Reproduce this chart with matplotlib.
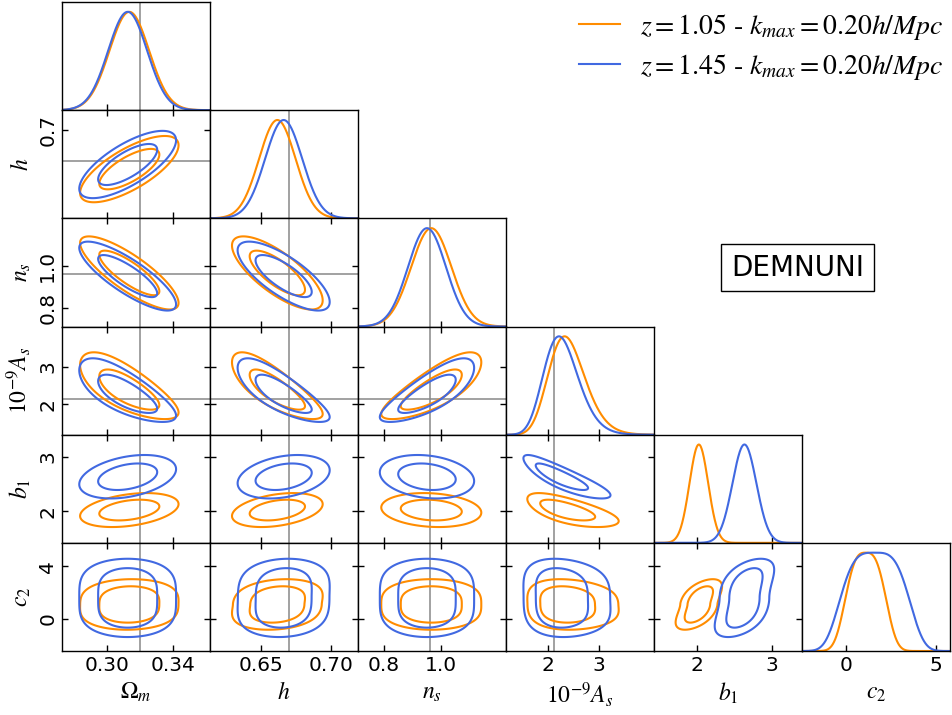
import numpy as np
import matplotlib
matplotlib.use("Agg")
import matplotlib.pyplot as plt
from matplotlib.lines import Line2D

plt.rcParams['mathtext.fontset'] = 'stix'

# parameters: labels, plot ranges, ticks and fiducial values
labels = ['$\\Omega_m$', '$h$', '$n_s$', '$10^{-9}A_s$', '$b_1$', '$c_2$']
limits = [(0.2727, 0.3624), (0.614, 0.7195), (0.71, 1.225),
          (1.19, 4.07), (1.42, 3.40), (-2.45, 5.8)]
xticks = [[0.30, 0.34], [0.65, 0.70], [0.8, 1.0], [2, 3], [2, 3], [0, 5]]
xticklabels = [['0.30', '0.34'], ['0.65', '0.70'], ['0.8', '1.0'],
               ['2', '3'], ['2', '3'], ['0', '5']]
yticks = [[], [0.7], [0.8, 1.0], [2, 3], [2, 3], [0, 4]]
yticklabels = [[], ['0.7'], ['0.8', '1.0'], ['2', '3'], ['2', '3'], ['0', '4']]
truth = [0.32, 0.67, 0.96, 2.13, None, None]

# posterior summaries for the two redshift bins
# (A_s width is in log units, c2 uses a flattening power)
chain_labels = ['$z=1.05$ - $k_{max}=0.20h/Mpc$', '$z=1.45$ - $k_{max}=0.20h/Mpc$']
chain_colors = ['#ff8c00', '#4169e1']

mean_z105 = [0.3135, 0.662, 0.965, 2.33, 2.02, 1.1]
sigma_z105 = [0.0120, 0.0130, 0.070, 0.150, 0.125, 1.05]
power_z105 = [1, 1, 1, 1, 1, 1.5]
corr_z105 = [[1.00, 0.72, -0.82, -0.72, 0.35, 0.05],
             [0.72, 1.00, -0.75, -0.78, 0.35, 0.20],
             [-0.82, -0.75, 1.00, 0.78, -0.15, 0.00],
             [-0.72, -0.78, 0.78, 1.00, -0.65, -0.10],
             [0.35, 0.35, -0.15, -0.65, 1.00, 0.60],
             [0.05, 0.20, 0.00, -0.10, 0.60, 1.00]]

mean_z145 = [0.3125, 0.6665, 0.950, 2.22, 2.63, 1.6]
sigma_z145 = [0.0118, 0.0132, 0.066, 0.150, 0.160, 1.80]
power_z145 = [1, 1, 1, 1, 1, 1.8]
corr_z145 = [[1.00, 0.72, -0.82, -0.72, 0.35, 0.00],
             [0.72, 1.00, -0.75, -0.78, 0.30, 0.10],
             [-0.82, -0.75, 1.00, 0.78, -0.20, 0.00],
             [-0.72, -0.78, 0.78, 1.00, -0.85, -0.10],
             [0.35, 0.30, -0.20, -0.85, 1.00, 0.55],
             [0.00, 0.10, 0.00, -0.10, 0.55, 1.00]]

chains = [(mean_z105, sigma_z105, power_z105, corr_z105),
          (mean_z145, sigma_z145, power_z145, corr_z145)]

levels = [2.30, 6.18]   # 68% and 95% in two dimensions
npar = len(labels)


def to_u(x, k, mean, sigma, power):
    if k == 3:
        t = (np.log(x) - np.log(mean[k])) / sigma[k]
    else:
        t = (x - mean[k]) / sigma[k]
    return np.sign(t) * np.abs(t) ** power[k]


fig = plt.figure(figsize=(9.53, 7.15), dpi=100)
W, H = 953.0, 715.0
x0, x1, y0, y1 = 62, 950, 2, 651
cw = (x1 - x0) / npar
rh = (y1 - y0) / npar

for i in range(npar):
    for j in range(i + 1):
        ax = fig.add_axes([(x0 + j * cw) / W, 1 - (y0 + (i + 1) * rh) / H,
                           cw / W, rh / H])
        for s in ax.spines.values():
            s.set_linewidth(1.0)
        ax.set_xlim(limits[j])
        if i == j:
            xs = np.linspace(limits[j][0], limits[j][1], 500)
            for (mean, sigma, power, corr), c in zip(chains, chain_colors):
                u = to_u(xs, j, mean, sigma, power)
                ax.plot(xs, np.exp(-0.5 * u ** 2), color=c, lw=1.5)
            ax.set_ylim(0, 1.1)
            ax.set_yticks([])
            ax.tick_params(direction='in', length=4, width=1, top=False,
                           right=False, left=False, labelsize=14.5)
        else:
            xs = np.linspace(limits[j][0], limits[j][1], 300)
            ys = np.linspace(limits[i][0], limits[i][1], 300)
            X, Y = np.meshgrid(xs, ys)
            for (mean, sigma, power, corr), c in zip(chains, chain_colors):
                ux = to_u(X, j, mean, sigma, power)
                uy = to_u(Y, i, mean, sigma, power)
                r = corr[i][j]
                q = (ux ** 2 - 2 * r * ux * uy + uy ** 2) / (1 - r ** 2)
                ax.contour(X, Y, q, levels=levels, colors=c, linewidths=1.5)
            ax.set_ylim(limits[i])
            ax.set_yticks(yticks[i])
            ax.set_yticklabels(yticklabels[i])
            ax.tick_params(direction='in', length=4, width=1, top=True,
                           right=True, labelsize=14.5)
            ax.tick_params(axis='y', labelrotation=90)
            if truth[i] is not None:
                ax.axhline(truth[i], color='#888888', lw=1.1, zorder=0)
        if truth[j] is not None:
            ax.axvline(truth[j], color='#888888', lw=1.1, zorder=0)
        ax.set_xticks(xticks[j])
        ax.set_xticklabels(xticklabels[j])
        if i < npar - 1:
            ax.tick_params(labelbottom=False)
        else:
            ax.set_xlabel(labels[j], fontsize=17)
        if j > 0 or i == 0:
            ax.tick_params(labelleft=False)
        else:
            ax.set_ylabel(labels[i], fontsize=17)
        for lab in ax.get_yticklabels():
            lab.set_va('center')

handles = [Line2D([], [], color=c, lw=1.5) for c in chain_colors]
fig.legend(handles, chain_labels, loc='upper right',
           bbox_to_anchor=(1.016, 1.018), frameon=False,
           prop={'family': 'STIXGeneral', 'size': 20},
           handlelength=1.5, handletextpad=0.7, labelspacing=0.35)

fig.text(797.5 / W, 1 - 267.5 / H, 'DEMNUNI', ha='center', va='center',
         fontsize=20,
         bbox=dict(boxstyle='square,pad=0.35', fc='white', ec='black', lw=1))

fig.savefig('out.png', dpi=100)
